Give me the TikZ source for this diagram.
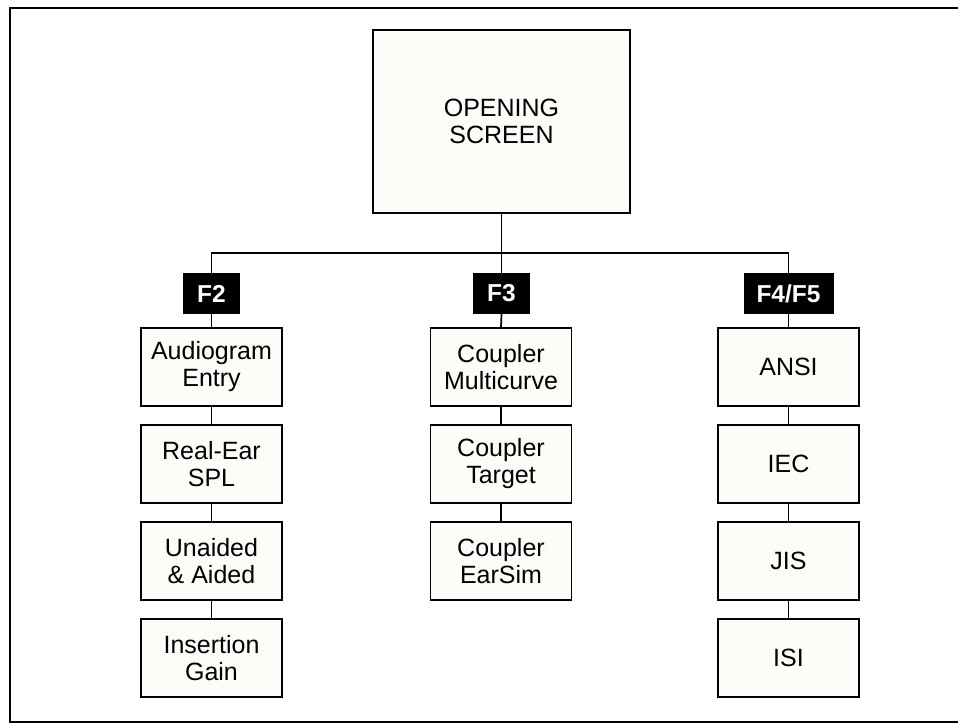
\documentclass[tikz,border=0pt]{standalone}
\usepackage{fontspec}
\setmainfont{Liberation Sans}
\definecolor{boxfill}{HTML}{FCFCF9}
\begin{document}
\begin{tikzpicture}[x=1pt,y=-1pt,
  every node/.style={font=\fontsize{25}{27}\selectfont},
  menubox/.style={draw=black,line width=1.8pt,fill=boxfill,minimum width=141pt,minimum height=78pt,inner sep=0pt,align=center},
  fkey/.style={fill=black,text=white,font=\fontsize{24.5}{26}\selectfont\bfseries,minimum height=41pt,inner sep=0pt},
  link/.style={line width=1.7pt}]
\useasboundingbox (0,0) rectangle (958,724);
\clip (0,0) rectangle (958,724);
\draw[line width=2pt] (10,8) rectangle (980,722);
\node[menubox,minimum width=257pt,minimum height=183pt] (open) at (501.5,121.5) {OPENING\\SCREEN};
\coordinate (j) at (501.5,253);
\node[fkey,minimum width=57pt] (f2) at (211.5,293.5) {F2};
\node[fkey,minimum width=57pt] (f3) at (501.5,293.5) {F3};
\node[fkey,minimum width=90pt] (f4) at (788.5,293.5) {F4/F5};
\node[menubox] (a1) at (211.5,367) {Audiogram\\Entry};
\node[menubox] (a2) at (211.5,464) {Real-Ear\\SPL};
\node[menubox] (a3) at (211.5,561) {Unaided\\\& Aided};
\node[menubox] (a4) at (211.5,658) {Insertion\\Gain};
\node[menubox] (b1) at (501,367) {Coupler\\Multicurve};
\node[menubox] (b2) at (501,464) {Coupler\\Target};
\node[menubox] (b3) at (501,561) {Coupler\\EarSim};
\node[menubox] (c1) at (788.5,367) {ANSI};
\node[menubox] (c2) at (788.5,464) {IEC};
\node[menubox] (c3) at (788.5,561) {JIS};
\node[menubox] (c4) at (788.5,658) {ISI};
\draw[link] (open.south) -- (f3.north);
\draw[link] (f2.north) |- (j) -| (f4.north);
\draw[link] (f2.south) -- (a1.north);
\draw[link] (a1.south) -- (a2.north);
\draw[link] (a2.south) -- (a3.north);
\draw[link] (a3.south) -- (a4.north);
\draw[link] (f3.south) -- (b1.north);
\draw[link] (b1.south) -- (b2.north);
\draw[link] (b2.south) -- (b3.north);
\draw[link] (f4.south) -- (c1.north);
\draw[link] (c1.south) -- (c2.north);
\draw[link] (c2.south) -- (c3.north);
\draw[link] (c3.south) -- (c4.north);
\end{tikzpicture}
\end{document}
